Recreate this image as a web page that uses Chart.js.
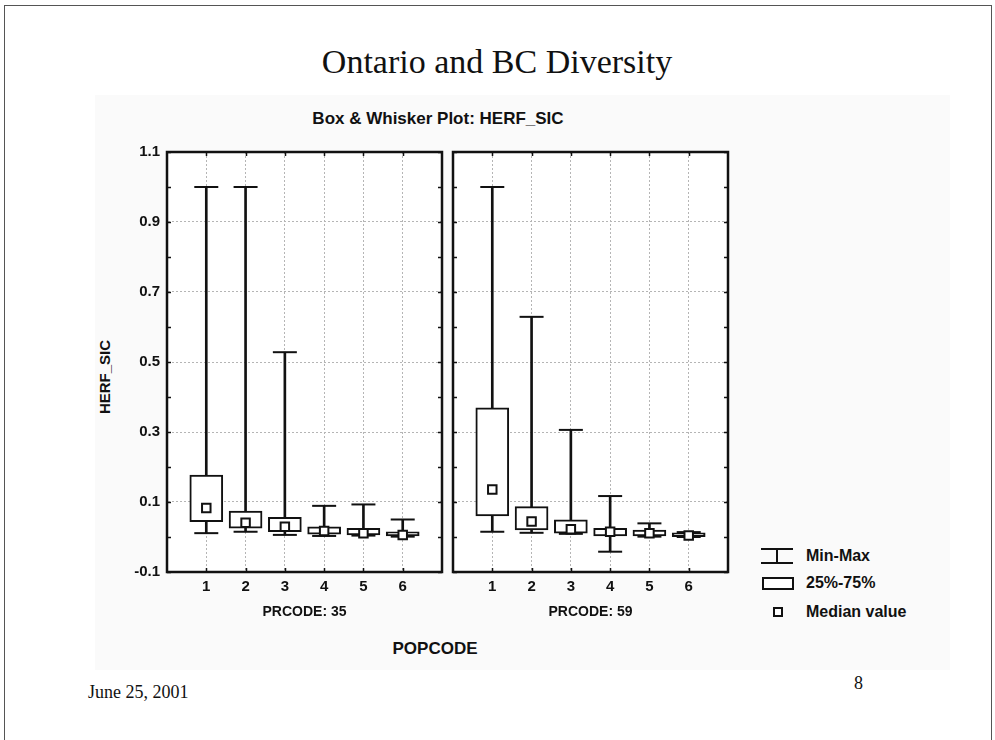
<!DOCTYPE html>
<html lang="en">
<head>
  <meta charset="UTF-8">
  <title>Ontario and BC Diversity</title>
  <script src="https://cdn.jsdelivr.net/npm/chart.js"></script>
  <style>
    body {
      margin: 0;
      width: 995px;
      height: 740px;
      background: #ffffff;
      position: relative;
      overflow: hidden;
      font-family: "Liberation Sans", Arial, sans-serif;
      color: #111;
    }
    .frame {
      position: absolute;
      left: 4px; top: 5px;
      width: 986px; height: 800px;
      border: 1px solid #555;
    }
    .shade {
      position: absolute;
      left: 95px; top: 95px;
      width: 855px; height: 575px;
      background: #fafafa;
    }
    .txt { position: absolute; white-space: nowrap; }
    .serif { font-family: "Liberation Serif", "Times New Roman", serif; font-weight: normal; }
    .bold { font-weight: bold; }
    .panel { position: absolute; }
    .legend-icon { position: absolute; box-sizing: border-box; }
  </style>
</head>
<body>
  <div class="frame"></div>
  <div class="shade"></div>

  <div class="txt serif" style="left:497px; top:62px; transform:translate(-50%,-50%); font-size:34px;">Ontario and BC Diversity</div>
  <div class="txt bold" style="left:438px; top:119px; transform:translate(-50%,-50%); font-size:17px;">Box &amp; Whisker Plot: HERF_SIC</div>
  <div class="txt bold" style="left:104px; top:377px; transform:translate(-50%,-50%) rotate(-90deg); font-size:15px;">HERF_SIC</div>
  <div class="txt bold" style="left:435px; top:649px; transform:translate(-50%,-50%); font-size:17px;">POPCODE</div>

  <div class="panel" style="left:80px; top:140px;"><canvas id="chart35" width="368" height="490"></canvas></div>
  <div class="panel" style="left:443px; top:140px;"><canvas id="chart59" width="291" height="490"></canvas></div>

  <!-- legend -->
  <svg class="legend-icon" style="left:760px; top:547px;" width="34" height="18">
    <line x1="1" y1="2" x2="33" y2="2" stroke="#111" stroke-width="2"/>
    <line x1="17" y1="2" x2="17" y2="16" stroke="#111" stroke-width="2"/>
    <line x1="1" y1="16" x2="33" y2="16" stroke="#111" stroke-width="2"/>
  </svg>
  <div class="legend-icon" style="left:762px; top:577px; width:32px; height:13px; border:2px solid #111; background:#fff;"></div>
  <div class="legend-icon" style="left:773px; top:607px; width:10px; height:10px; border:2px solid #111; background:#fff;"></div>
  <div class="txt bold" style="left:806px; top:556px; transform:translateY(-50%); font-size:16px;">Min-Max</div>
  <div class="txt bold" style="left:806px; top:583px; transform:translateY(-50%); font-size:16px;">25%-75%</div>
  <div class="txt bold" style="left:806px; top:612px; transform:translateY(-50%); font-size:16px;">Median value</div>

  <div class="txt serif" style="left:88px; top:692px; transform:translateY(-50%); font-size:18px;">June 25, 2001</div>
  <div class="txt serif" style="left:854px; top:683px; transform:translateY(-50%); font-size:18px;">8</div>

  <script>
    // POPCODE categories
    const categories = [1, 2, 3, 4, 5, 6];

    // PRCODE 35 (Ontario)
    const min35 = [0.011, 0.015, 0.006, 0.003, 0.004, 0.001];
    const q1_35 = [0.044, 0.025, 0.015, 0.008, 0.006, 0.003];
    const med35 = [0.083, 0.041, 0.029, 0.017, 0.011, 0.006];
    const q3_35 = [0.177, 0.074, 0.056, 0.029, 0.025, 0.015];
    const max35 = [1.0, 1.0, 0.528, 0.089, 0.093, 0.05];

    // PRCODE 59 (BC)
    const min59 = [0.015, 0.012, 0.009, -0.042, 0.001, 0.0];
    const q1_59 = [0.06, 0.02, 0.011, 0.003, 0.003, 0.001];
    const med59 = [0.136, 0.044, 0.022, 0.015, 0.011, 0.004];
    const q3_59 = [0.369, 0.087, 0.049, 0.025, 0.02, 0.012];
    const max59 = [1.0, 0.629, 0.306, 0.117, 0.039, 0.014];

    const yTickLabels = ['1.1', '0.9', '0.7', '0.5', '0.3', '0.1', '-0.1'];

    const INK = '#111';
    const GRID = '#b5b5b5';
    const FONT = '"Liberation Sans", Arial, sans-serif';

    // white plot area, solid frame and small inward ticks
    const framePlugin = {
      id: 'frame',
      beforeDraw(chart) {
        const { ctx, chartArea: a } = chart;
        ctx.save();
        ctx.fillStyle = '#fff';
        ctx.fillRect(a.left, a.top, a.width, a.height);
        ctx.restore();
      },
      afterDraw(chart) {
        const { ctx, chartArea: a, scales: { x, y } } = chart;
        ctx.save();
        ctx.strokeStyle = INK;
        ctx.lineWidth = 1.5;
        ctx.beginPath();
        y.ticks.forEach(t => {
          const py = Math.round(y.getPixelForValue(t.value)) + 0.5;
          ctx.moveTo(a.left, py); ctx.lineTo(a.left + 4, py);
          ctx.moveTo(a.right - 4, py); ctx.lineTo(a.right, py);
        });
        x.ticks.forEach(t => {
          if (t.value <= 0 || t.value >= 7) return;
          const px = Math.round(x.getPixelForValue(t.value)) + 0.5;
          ctx.moveTo(px, a.top); ctx.lineTo(px, a.top + 4);
          ctx.moveTo(px, a.bottom - 4); ctx.lineTo(px, a.bottom);
        });
        ctx.stroke();
        ctx.lineWidth = 2.5;
        ctx.strokeRect(a.left, a.top, a.width, a.height);
        ctx.restore();
      }
    };

    function tenths(v) { return Math.round(v * 10); }
    function isMajor(v) { return Math.abs(tenths(v)) % 2 === 1; }

    function makeChart(id, mins, q1s, meds, q3s, maxs, prLabel, showY) {
      const pts = arr => categories.map((c, i) => ({ x: c, y: arr[i] }));
      return new Chart(document.getElementById(id), {
        type: 'bar',
        data: {
          datasets: [
            {
              label: 'whisker',
              data: categories.map((c, i) => ({ x: c, y: [mins[i], maxs[i]] })),
              backgroundColor: INK,
              borderWidth: 0,
              barThickness: 2,
              grouped: false,
              order: 4
            },
            {
              label: '25%-75%',
              data: categories.map((c, i) => ({ x: c, y: [q1s[i], q3s[i]] })),
              backgroundColor: '#fff',
              borderColor: INK,
              borderWidth: 2,
              borderSkipped: false,
              barThickness: 33,
              grouped: false,
              order: 3
            },
            {
              type: 'scatter',
              label: 'Min',
              data: pts(mins),
              pointStyle: 'line',
              radius: 12,
              borderColor: INK,
              borderWidth: 2,
              order: 2
            },
            {
              type: 'scatter',
              label: 'Max',
              data: pts(maxs),
              pointStyle: 'line',
              radius: 12,
              borderColor: INK,
              borderWidth: 2,
              order: 2
            },
            {
              type: 'scatter',
              label: 'Median value',
              data: pts(meds),
              pointStyle: 'rect',
              radius: 6,
              backgroundColor: '#fff',
              borderColor: INK,
              borderWidth: 2,
              order: 1
            }
          ]
        },
        options: {
          responsive: false,
          animation: false,
          layout: { autoPadding: false, padding: { top: 12, right: 6, left: 0, bottom: 0 } },
          plugins: {
            legend: { display: false },
            tooltip: { enabled: false }
          },
          scales: {
            x: {
              type: 'linear',
              min: 0,
              max: 7,
              offset: false,
              grid: {
                offset: false,
                drawTicks: false,
                color: c => (c.tick && c.tick.value > 0 && c.tick.value < 7) ? GRID : 'transparent',
                lineWidth: 1
              },
              border: { display: true, color: INK, width: 2, dash: [2, 2] },
              ticks: {
                stepSize: 1,
                autoSkip: false,
                maxRotation: 0,
                padding: 6,
                color: INK,
                font: { family: FONT, size: 15, weight: 'bold' },
                callback: v => (v >= 1 && v <= 6) ? String(categories[v - 1]) : ''
              },
              title: {
                display: true,
                text: prLabel,
                color: INK,
                padding: { top: 0, bottom: 9 },
                font: { family: FONT, size: 14, weight: 'bold' }
              },
              afterFit: s => {
                s.height = 58;
                s.paddingLeft = 0; s.paddingRight = 0;
              }
            },
            y: {
              min: -0.1,
              max: 1.1,
              grid: {
                drawTicks: false,
                color: c => (c.tick && isMajor(c.tick.value) && tenths(c.tick.value) > -1 && tenths(c.tick.value) < 11) ? GRID : 'transparent',
                lineWidth: 1
              },
              border: { display: true, color: INK, width: 2, dash: [2, 2] },
              ticks: {
                display: showY,
                stepSize: 0.1,
                autoSkip: false,
                padding: 7,
                color: INK,
                font: { family: FONT, size: 15, weight: 'bold' },
                callback: v => {
                  if (!isMajor(v)) return '';
                  const label = (tenths(v) / 10).toFixed(1);
                  return yTickLabels.includes(label) ? label : '';
                }
              },
              afterFit: s => {
                s.width = showY ? 87 : 10;
                s.paddingTop = 0; s.paddingBottom = 0;
              }
            }
          }
        },
        plugins: [framePlugin]
      });
    }

    makeChart('chart35', min35, q1_35, med35, q3_35, max35, 'PRCODE: 35', true);
    makeChart('chart59', min59, q1_59, med59, q3_59, max59, 'PRCODE: 59', false);
  </script>
</body>
</html>
